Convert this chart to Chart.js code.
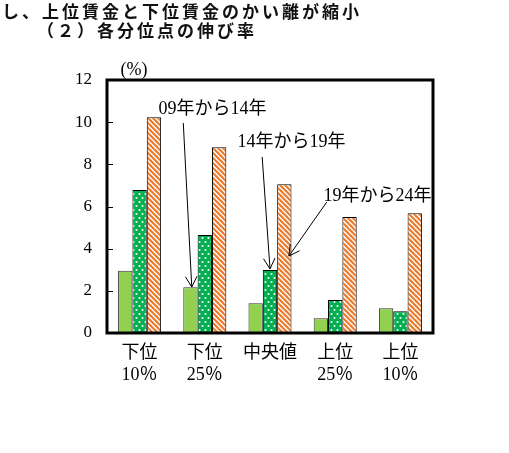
<!DOCTYPE html>
<html lang="ja">
<head>
<meta charset="utf-8">
<script src="https://cdn.jsdelivr.net/npm/chart.js@4.4.1/dist/chart.umd.min.js"></script>
<style>
  body { margin: 0; background: #fff; }
  #wrap { position: relative; width: 509px; height: 453px; overflow: hidden; }
  #chart { display: block; }
  .title {
    position: absolute;
    font-family: "Noto Sans CJK JP", sans-serif;
    font-weight: 700;
    font-size: 17px;
    line-height: 20px;
    letter-spacing: 3px;
    white-space: nowrap;
    color: #111;
  }
</style>
</head>
<body>
<div id="wrap">
  <canvas id="chart" width="509" height="453"></canvas>
  <div class="title" style="left:2px;top:1px">し、上位賃金と下位賃金のかい離が縮小</div>
  <div class="title" style="left:37px;top:20px">（２）各分位点の伸び率</div>
</div>
<script>
// categories and series
const categories = [['下位', '10％'], ['下位', '25％'], ['中央値'], ['上位', '25％'], ['上位', '10％']];
const seriesNames = ['09年から14年', '14年から19年', '19年から24年'];
const growth0914 = [2.95, 2.17, 1.41, 0.70, 1.17];
const growth1419 = [6.78, 4.65, 2.99, 1.57, 1.03];
const growth1924 = [10.23, 8.81, 7.05, 5.50, 5.68];
const yTicks = [0, 2, 4, 6, 8, 10, 12];

// callout labels, in data units (x = category index, y = %)
const noteTextX = [1.12, 2.33, 3.65];
const noteTextY = [10.63, 9.06, 6.5];
const arrowFromX = [0.67, 1.88, 2.87];
const arrowFromY = [9.96, 8.35, 6.21];
const arrowToX = [0.80, 2.00, 2.29];
const arrowToY = [2.18, 3.04, 3.65];

const serifFont = '"Liberation Serif", "Noto Sans CJK JP", serif';

function makeDots() {
    const c = document.createElement('canvas');
    c.width = 6; c.height = 8;
    const g = c.getContext('2d');
    g.fillStyle = '#00b050';
    g.fillRect(0, 0, 6, 8);
    g.fillStyle = '#ffffff';
    g.beginPath(); g.arc(1.5, 2, 1.05, 0, Math.PI * 2); g.fill();
    g.beginPath(); g.arc(4.5, 6, 1.05, 0, Math.PI * 2); g.fill();
    return g.createPattern(c, 'repeat');
}

function makeStripes() {
    const c = document.createElement('canvas');
    c.width = 5; c.height = 5;
    const g = c.getContext('2d');
    g.fillStyle = '#ffffff';
    g.fillRect(0, 0, 5, 5);
    g.strokeStyle = '#ec7a2c';
    g.lineWidth = 2.2;
    // "\" direction stripes
    for (let k = -5; k <= 5; k += 5) {
        g.beginPath();
        g.moveTo(k - 1, -1);
        g.lineTo(k + 6, 6);
        g.stroke();
    }
    return g.createPattern(c, 'repeat');
}

function catPixel(scale, v) {
    const p0 = scale.getPixelForValue(0);
    const p1 = scale.getPixelForValue(1);
    return p0 + (p1 - p0) * v;
}

function drawArrow(ctx, x1, y1, x2, y2) {
    ctx.beginPath();
    ctx.moveTo(x1, y1);
    ctx.lineTo(x2, y2);
    ctx.stroke();
    const ang = Math.atan2(y2 - y1, x2 - x1);
    const len = 12, spread = 0.5;
    ctx.beginPath();
    ctx.moveTo(x2 - len * Math.cos(ang - spread), y2 - len * Math.sin(ang - spread));
    ctx.lineTo(x2, y2);
    ctx.lineTo(x2 - len * Math.cos(ang + spread), y2 - len * Math.sin(ang + spread));
    ctx.stroke();
}

const framePlugin = {
    id: 'frame',
    afterDatasetsDraw(chart) {
        const ctx = chart.ctx;
        const a = chart.chartArea;
        const x = chart.scales.x;
        const y = chart.scales.y;
        ctx.save();

        // inward ticks on the y axis
        ctx.strokeStyle = '#000';
        ctx.lineWidth = 1;
        y.ticks.forEach(t => {
            const py = Math.round(y.getPixelForValue(t.value)) + 0.5;
            ctx.beginPath();
            ctx.moveTo(a.left, py);
            ctx.lineTo(a.left + 6, py);
            ctx.stroke();
        });

        // thick box around the plot
        ctx.lineWidth = 3;
        ctx.strokeRect(a.left, a.top, a.right - a.left, a.bottom - a.top);

        // unit label
        ctx.fillStyle = '#000';
        ctx.font = '18px ' + serifFont;
        ctx.textAlign = 'center';
        ctx.textBaseline = 'middle';
        ctx.fillText('(%)', a.left + 27, a.top - 10);

        // callouts
        ctx.lineWidth = 1;
        ctx.font = '18px ' + serifFont;
        seriesNames.forEach((name, i) => {
            ctx.fillText(name, catPixel(x, noteTextX[i]), y.getPixelForValue(noteTextY[i]));
            drawArrow(ctx,
                catPixel(x, arrowFromX[i]), y.getPixelForValue(arrowFromY[i]),
                catPixel(x, arrowToX[i]), y.getPixelForValue(arrowToY[i]));
        });
        ctx.restore();
    }
};

const ctx = document.getElementById('chart').getContext('2d');
const growthChart = new Chart(ctx, {
    type: 'bar',
    data: {
        labels: categories,
        datasets: [{
            label: seriesNames[0],
            data: growth0914,
            backgroundColor: '#92d050',
            borderColor: '#333',
            borderWidth: 1
        }, {
            label: seriesNames[1],
            data: growth1419,
            backgroundColor: makeDots(),
            borderColor: '#000',
            borderWidth: 1
        }, {
            label: seriesNames[2],
            data: growth1924,
            backgroundColor: makeStripes(),
            borderColor: '#000',
            borderWidth: 1
        }]
    },
    options: {
        responsive: false,
        animation: false,
        devicePixelRatio: 1,
        layout: { padding: { left: 0, right: 76, top: 80, bottom: 60 } },
        datasets: { bar: { barPercentage: 1.0, categoryPercentage: 0.66 } },
        plugins: {
            legend: { display: false },
            tooltip: { enabled: false }
        },
        scales: {
            x: {
                grid: { display: false, drawTicks: false },
                border: { display: false },
                ticks: {
                    color: '#000',
                    padding: 9,
                    font: { family: serifFont, size: 18, lineHeight: '22px' }
                },
                afterFit(scale) { scale.height = 60; }
            },
            y: {
                min: 0,
                max: 12,
                grid: { display: false, drawTicks: false },
                border: { display: false },
                afterBuildTicks(scale) { scale.ticks = yTicks.map(v => ({ value: v })); },
                ticks: {
                    color: '#000',
                    padding: 15,
                    font: { family: serifFont, size: 17 }
                },
                afterFit(scale) { scale.width = 107; }
            }
        }
    },
    plugins: [framePlugin]
});
</script>
</body>
</html>
